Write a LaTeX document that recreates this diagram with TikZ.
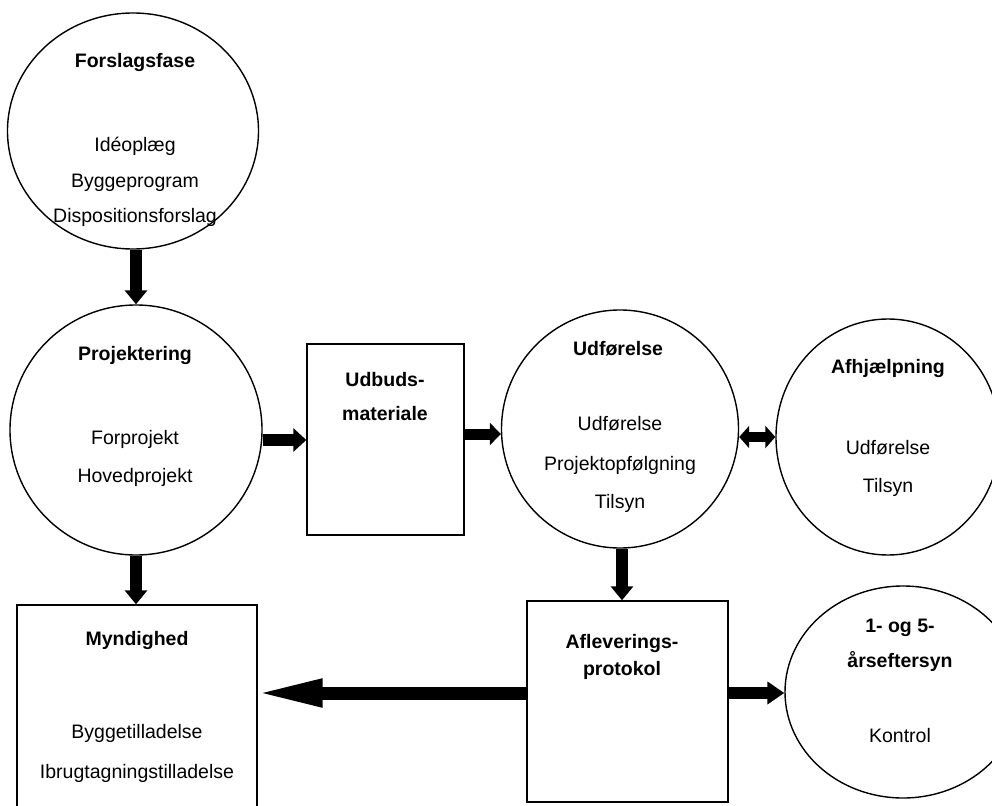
\documentclass[tikz,border=0pt]{standalone}
\usepackage{fontspec}
\setmainfont{Liberation Sans}
\usetikzlibrary{shapes.geometric,arrows.meta}
\begin{document}
\begin{tikzpicture}[x=1pt,y=-1pt,
  ell/.style={draw, line width=1.4pt, ellipse, inner sep=0pt},
  box/.style={draw, line width=1.4pt, rectangle, inner sep=0pt},
  tt/.style={font=\fontsize{19.5}{22}\selectfont\bfseries, anchor=base, inner sep=0pt},
  tx/.style={font=\fontsize{19.5}{22}\selectfont, anchor=base, inner sep=0pt},
  blkv/.style={line width=12pt, -{Triangle[length=14pt,width=22pt]}},
  blkh/.style={line width=12pt, -{Triangle[length=13pt,width=23pt]}},
  ]
\useasboundingbox (0,0) rectangle (992,805);
\clip (0,0) rectangle (992,805);
% shapes
\node[ell, minimum width=251pt, minimum height=236pt] (forslag) at (133,131) {};
\node[ell, minimum width=252pt, minimum height=250pt] (proj) at (136,430) {};
\node[box, minimum width=157pt, minimum height=191pt] (udbud) at (385.5,439.5) {};
\node[ell, minimum width=237pt, minimum height=238pt] (udf) at (620,429) {};
\node[ell, minimum width=224pt, minimum height=236pt] (afh) at (888,437) {};
\node[box, minimum width=240pt, minimum height=225pt] (mynd) at (137,717.5) {};
\node[box, minimum width=201pt, minimum height=201pt] (aflev) at (627.5,701.5) {};
\node[ell, minimum width=236pt, minimum height=212pt] (fem) at (903,692) {};
% texts
\node[tt] (t1) at (135,68) {Forslagsfase};
\node[tx] (t2) at (135,152) {Idéoplæg};
\node[tx] (t3) at (135,187) {Byggeprogram};
\node[tx] (t4) at (135,222) {Dispositionsforslag};
\node[tt] (p1) at (135,360) {Projektering};
\node[tx] (p2) at (135,444) {Forprojekt};
\node[tx] (p3) at (135,482) {Hovedprojekt};
\node[tt] (u1) at (385,386) {Udbuds-};
\node[tt] (u2) at (385,420) {materiale};
\node[tt] (d1) at (618,355) {Udførelse};
\node[tx] (d2) at (620,430) {Udførelse};
\node[tx] (d3) at (620,470) {Projektopfølgning};
\node[tx] (d4) at (620,508) {Tilsyn};
\node[tt] (a1) at (888,373) {Afhjælpning};
\node[tx] (a2) at (888,454) {Udførelse};
\node[tx] (a3) at (888,492) {Tilsyn};
\node[tt] (m1) at (137,645) {Myndighed};
\node[tx] (m2) at (137,738) {Byggetilladelse};
\node[tx] (m3) at (137,778) {Ibrugtagningstilladelse};
\node[tt] (f1) at (622,648) {Afleverings-};
\node[tt] (f2) at (622,675) {protokol};
\node[tt] (k1) at (900,632) {1- og 5-};
\node[tt] (k2) at (900,667) {årseftersyn};
\node[tx] (k3) at (900,742) {Kontrol};
% connectors
\coordinate (bigy) at (0,693);
\draw[blkv] (proj.north |- forslag.south) -- (proj.north);
\draw[blkv] (proj.south) -- (proj.south |- mynd.north);
\draw[blkv] ([xshift=2pt]udf.south) -- ([xshift=2pt]udf.south |- aflev.north);
\draw[blkh] ([yshift=-10pt]proj.east) -- ([yshift=-10pt]proj.east -| udbud.west);
\draw[line width=11pt, -{Triangle[length=11pt,width=22pt]}] ([yshift=-5pt]udf.west -| udbud.east) -- ([yshift=-5pt]udf.west);
\draw[line width=10pt, {Triangle[length=10pt,width=22pt]}-{Triangle[length=10pt,width=22pt]}] ([yshift=-8pt]udf.east) -- ([yshift=-8pt]udf.east -| afh.west);
\draw[line width=13pt, -{Triangle[length=70pt,width=25pt]}] (aflev.west |- bigy) -- ([xshift=-5pt]mynd.east |- bigy);
\draw[line width=12pt, -{Triangle[length=17pt,width=22pt]}] (aflev.east |- bigy) -- (fem.west |- bigy);
\end{tikzpicture}
\end{document}
